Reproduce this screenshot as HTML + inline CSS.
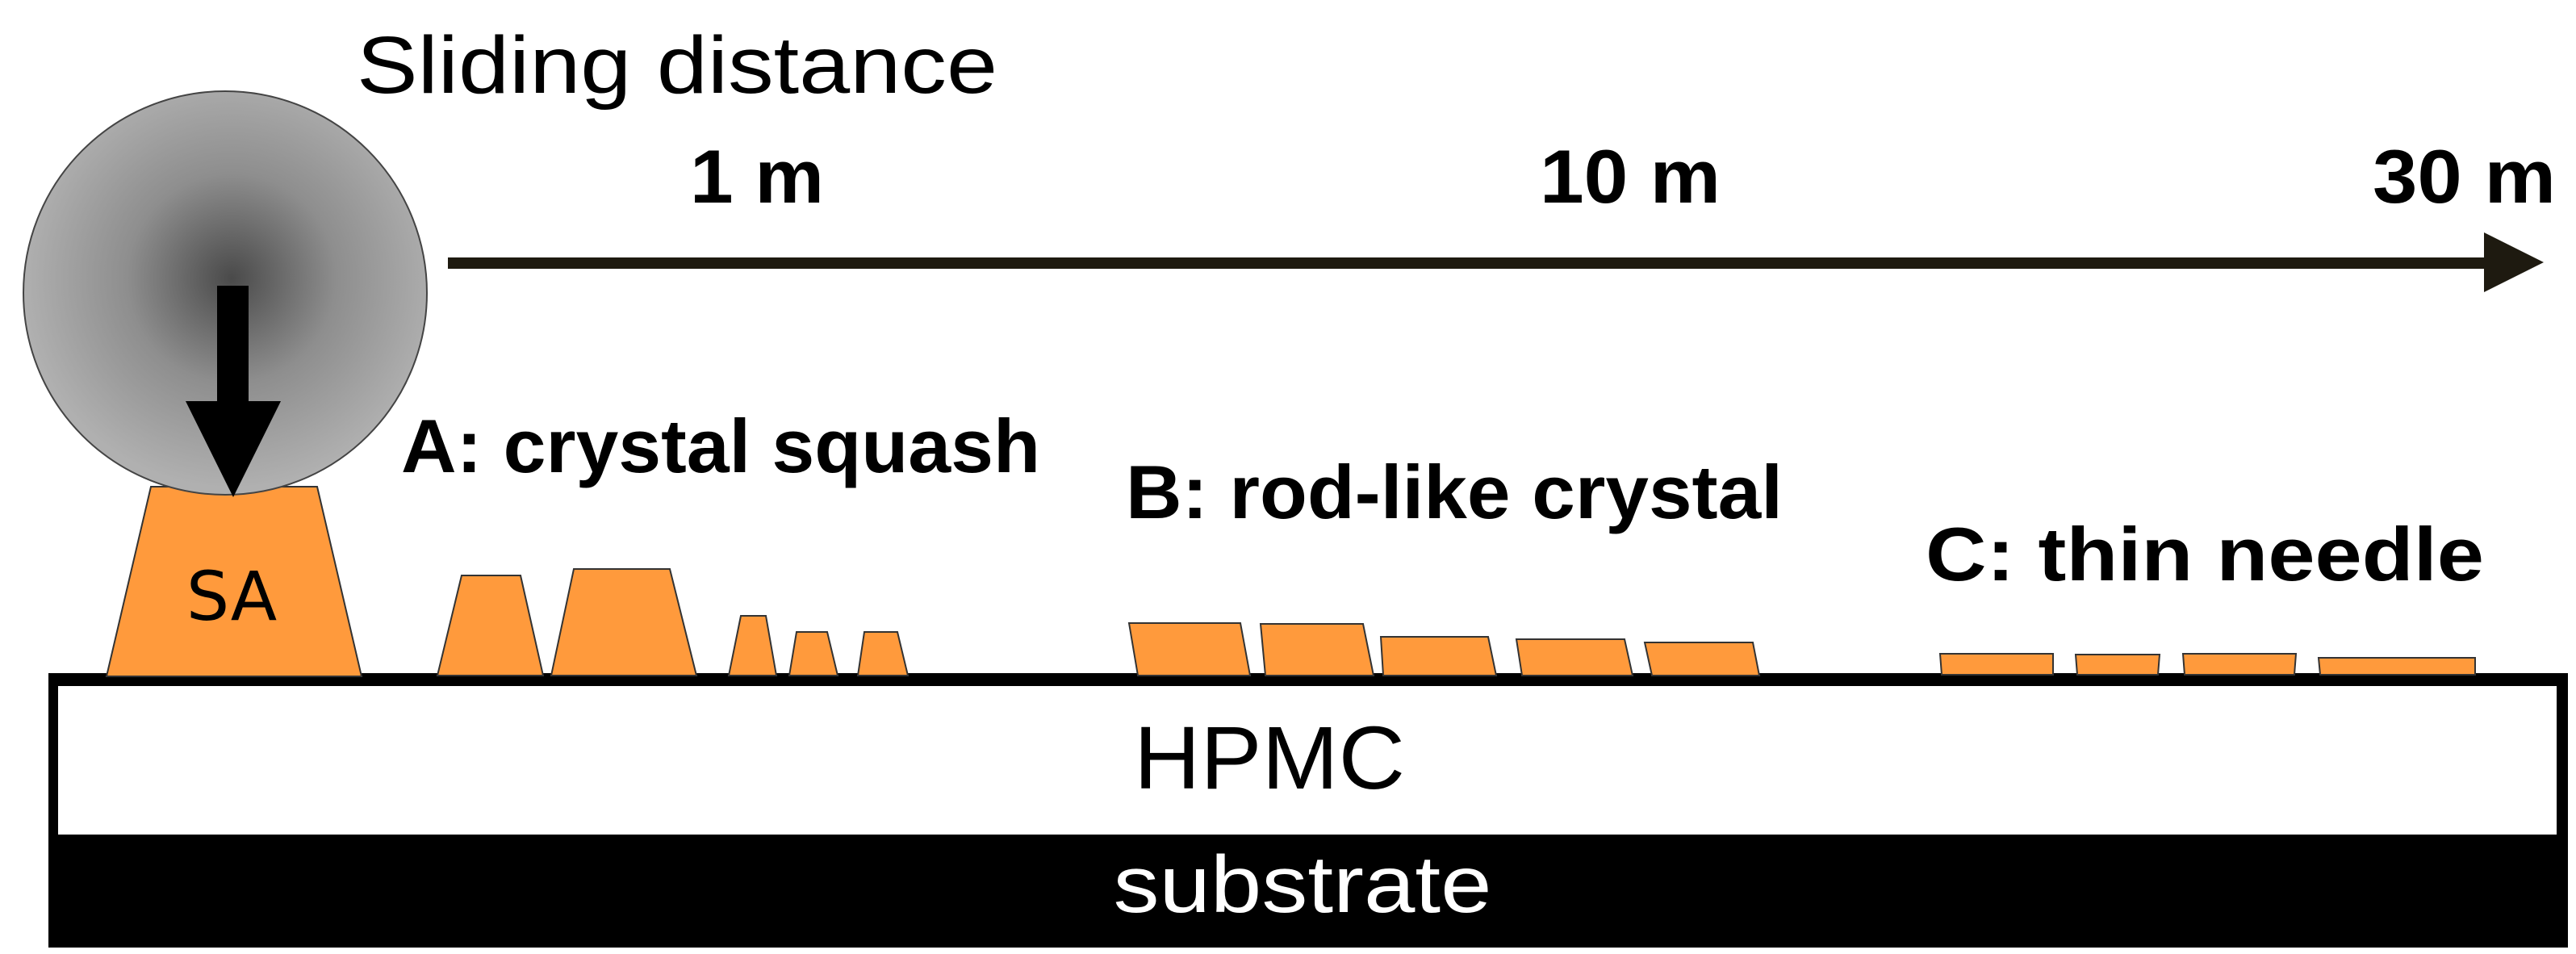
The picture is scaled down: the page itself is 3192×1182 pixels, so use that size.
<!DOCTYPE html>
<html><head><meta charset="utf-8"><style>html,body{margin:0;padding:0;background:#fff}svg{display:block}</style></head>
<body>
<svg width="3192" height="1182" viewBox="0 0 3192 1182" xmlns="http://www.w3.org/2000/svg">
<defs>
<radialGradient id="g" cx="287" cy="345" r="260" gradientUnits="userSpaceOnUse">
<stop offset="0" stop-color="#4a4a4a"/><stop offset="0.5" stop-color="#8e8e8e"/><stop offset="1" stop-color="#b0b0b0"/>
</radialGradient>
</defs>
<g font-family="Liberation Sans, sans-serif">
<text x="442" y="115" font-size="100" textLength="794" lengthAdjust="spacingAndGlyphs">Sliding distance</text>
<g font-weight="bold" font-size="94">
<text x="855" y="251" textLength="166" lengthAdjust="spacingAndGlyphs">1 m</text>
<text x="1908" y="251" textLength="224" lengthAdjust="spacingAndGlyphs">10 m</text>
<text x="2940" y="251" textLength="227" lengthAdjust="spacingAndGlyphs">30 m</text>
<text x="497" y="585" textLength="792" lengthAdjust="spacingAndGlyphs">A: crystal squash</text>
<text x="1395" y="642" textLength="814" lengthAdjust="spacingAndGlyphs">B: rod-like crystal</text>
<text x="2386" y="719" textLength="692" lengthAdjust="spacingAndGlyphs">C:  thin needle</text>
</g>
</g>
<line x1="555" y1="326" x2="3085" y2="326" stroke="#1e1a10" stroke-width="14"/>
<polygon points="3078,288 3152,325 3078,362" fill="#1e1a10"/>
<rect x="60" y="834" width="3122" height="340" fill="#000"/>
<rect x="72" y="850" width="3096" height="184" fill="#fff"/>
<polygon points="187,603 393,603 448,838 132,838" fill="#ff9a3c" stroke="#333" stroke-width="2"/>
<circle cx="279" cy="363" r="250" fill="url(#g)" stroke="#444" stroke-width="2"/>
<polygon points="269,354 308,354 308,497 348,497 289,616 230,497 269,497" fill="#000"/>
<text x="287" y="768" font-family="DejaVu Sans, sans-serif" font-size="84" text-anchor="middle">SA</text>
<g fill="#ff9a3c" stroke="#333" stroke-width="2">
<polygon points="572,713 645,713 673,837 542,837"/>
<polygon points="711,705 830,705 863,837 683,837"/>
<polygon points="918,763 949,763 962,837 903,837"/>
<polygon points="987,783 1025,783 1038,837 978,837"/>
<polygon points="1071,783 1112,783 1125,837 1063,837"/>
<polygon points="1399,772 1537,772 1549,837 1410,837"/>
<polygon points="1562,773 1689,773 1702,837 1568,837"/>
<polygon points="1711,789 1844,789 1854,837 1714,837"/>
<polygon points="1879,792 2013,792 2023,837 1886,837"/>
<polygon points="2038,796 2172,796 2180,837 2047,837"/>
<polygon points="2404,810 2544,810 2544,836 2406,836"/>
<polygon points="2572,811 2676,811 2674,836 2574,836"/>
<polygon points="2705,810 2845,810 2843,836 2707,836"/>
<polygon points="2873,815 3067,815 3067,836 2875,836"/>
</g>
<text x="1573" y="977" font-family="Liberation Sans, sans-serif" font-size="110" text-anchor="middle" textLength="336" lengthAdjust="spacingAndGlyphs">HPMC</text>
<text x="1614" y="1130" font-family="Liberation Sans, sans-serif" font-size="100" fill="#fff" text-anchor="middle" textLength="469" lengthAdjust="spacingAndGlyphs">substrate</text>
</svg>
</body></html>
